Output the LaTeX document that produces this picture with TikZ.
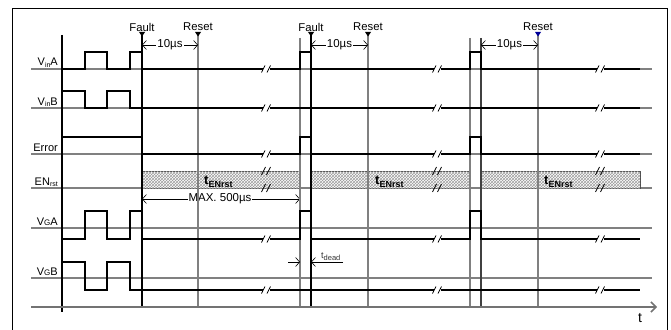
\documentclass[tikz,border=0pt]{standalone}
\usepackage{fontspec}
\setmainfont{Liberation Sans}
\usetikzlibrary{patterns,arrows.meta}
\newcommand\sigbrk[2]{%
  \fill[white] (#1-3.5,#2-2.5) rectangle (#1+3.5,#2+2.5);
  \draw[black,line width=0.7pt] (#1-4.5,#2+3.5) -- (#1-1,#2-3.5) (#1+1,#2+3.5) -- (#1+4.5,#2-3.5);}
\newcommand\barbrk[2]{%
  \draw[black,line width=0.7pt] (#1-4.5,#2+4) -- (#1-0.5,#2-4) (#1+0.5,#2+4) -- (#1+4.5,#2-4);}
\begin{document}
\begin{tikzpicture}[x=1pt,y=-1pt,
  baseln/.style={draw=gray,line width=1.1pt},
  sig/.style={draw=black,line width=1.3pt,line join=miter},
  vgray/.style={draw=gray,line width=1.1pt},
  vblack/.style={draw=black,line width=1.1pt},
  lbl/.style={font=\fontsize{11}{13}\selectfont,anchor=base east,inner sep=0pt},
  toplbl/.style={font=\fontsize{11.3}{13}\selectfont,inner sep=0pt},
  dimarrow/.style={draw=black,line width=0.6pt,{Straight Barb[length=4pt,width=9pt]}-{Straight Barb[length=4pt,width=9pt]}},
  onearrow/.style={draw=black,line width=0.6pt,-{Straight Barb[length=4pt,width=9pt]}},
  dimtxt/.style={font=\fontsize{11.5}{13}\selectfont,fill=white,inner sep=1pt},
  hatchbar/.style={draw=black!70,line width=0.6pt,fill=white,postaction={pattern=crosshatch,pattern color=gray!75}},
  trimk/.style={fill=#1,draw=none},
  tenrst/.style={anchor=base west,inner sep=0pt,font=\bfseries\fontsize{13}{15}\selectfont}
]
\useasboundingbox (0,0) rectangle (671,329);
% frame
\draw[black,line width=0.8pt] (12,335) -- (12,8) -- (667,8) -- (667,335);

% baselines
\draw[baseln] (31,69) -- (652,69);
\draw[baseln] (31,108) -- (652,108);
\draw[baseln] (31,154) -- (652,154);
\draw[baseln] (31,188) -- (652,188);
\draw[baseln] (31,228) -- (652,228);
\draw[baseln] (31,278) -- (652,278);

% EN_rst bars
\draw[hatchbar] (142,171) rectangle (300,188);
\draw[hatchbar] (311,171) rectangle (470,188);
\draw[hatchbar] (481,171) rectangle (640,188);

% MAX arrow and text (under vertical lines)
\draw[onearrow] (190,199) -- (300,199);
\draw[draw=black,line width=0.6pt,{Straight Barb[length=4pt,width=9pt]}-] (142,199) -- (190,199);
\node[dimtxt] (maxtxt) at (220,199) {MAX. 500µs};

% vertical lines
\coordinate (f1t) at (142,35); \coordinate (f1b) at (142,307);
\coordinate (r1t) at (198,35); \coordinate (r1b) at (198,307);
\coordinate (g2at) at (300,38); \coordinate (g2ab) at (300,307);
\coordinate (f2t) at (311,35); \coordinate (f2b) at (311,307);
\coordinate (r2t) at (368,35); \coordinate (r2b) at (368,307);
\coordinate (g3at) at (470,38); \coordinate (g3ab) at (470,307);
\coordinate (g3bt) at (481,38); \coordinate (g3bb) at (481,307);
\coordinate (r3t) at (538,35); \coordinate (r3b) at (538,307);
\draw[vblack] (62,35) -- (62,312);
\draw[vblack] (f1t) -- (f1b);
\draw[vgray] (r1t) -- (r1b);
\draw[vgray] (g2at) -- (g2ab);
\draw[vblack] (f2t) -- (f2b);
\draw[vgray] (r2t) -- (r2b);
\draw[vgray] (g3at) -- (g3ab);
\draw[draw=black!75,line width=1.1pt] (g3bt) -- (g3bb);
\draw[vgray] (r3t) -- (r3b);

% time axis
\draw[draw=gray!90!black,line width=1.5pt,-{Straight Barb[length=5pt,width=10pt]}] (31,307) -- (657,307);
\node[font=\fontsize{14}{15}\selectfont,inner sep=0pt] (tlbl) at (640,318) {t};

% signals
\draw[sig] (62,69) -- (85,69) -- (85,52) -- (107,52) -- (107,69) -- (130,69) -- (130,52) -- (142,52) -- (142,69)
  -- (300,69) -- (300,52) -- (311,52) -- (311,69) -- (470,69) -- (470,52) -- (481,52) -- (481,69) -- (640,69);
\draw[sig] (62,91) -- (85,91) -- (85,108) -- (107,108) -- (107,91) -- (130,91) -- (130,108) -- (640,108);
\draw[sig] (62,137) -- (142,137) -- (142,154) -- (300,154) -- (300,137) -- (311,137) -- (311,154)
  -- (470,154) -- (470,137) -- (481,137) -- (481,154) -- (640,154);
\draw[sig] (62,239) -- (85,239) -- (85,211) -- (107,211) -- (107,239) -- (130,239) -- (130,211) -- (142,211) -- (142,239)
  -- (300,239) -- (300,211) -- (311,211) -- (311,239) -- (470,239) -- (470,211) -- (481,211) -- (481,239) -- (640,239);
\draw[sig] (62,262) -- (85,262) -- (85,290) -- (107,290) -- (107,262) -- (130,262) -- (130,290) -- (640,290);

% breaks
\foreach \bx in {266,437,600} {
  \sigbrk{\bx}{69}
  \sigbrk{\bx}{108}
  \sigbrk{\bx}{154}
  \sigbrk{\bx}{239}
  \sigbrk{\bx}{290}
  \barbrk{\bx}{171}
  \barbrk{\bx}{188}
}

% t_ENrst labels
\node[tenrst] (ten1) at (204,184) {t\raisebox{-3pt}{\fontsize{9}{10}\selectfont ENrst}};
\node[tenrst] (ten2) at (375,184) {t\raisebox{-3pt}{\fontsize{9}{10}\selectfont ENrst}};
\node[tenrst] (ten3) at (544,184) {t\raisebox{-3pt}{\fontsize{9}{10}\selectfont ENrst}};

% markers and top labels
\foreach \mx/\mc in {142/black,198/black,311/black,368/black,538/blue!60!black} {
  \fill[trimk=\mc] (\mx-3,32) -- (\mx+3,32) -- (\mx,36.5) -- cycle;
}
\node[toplbl] (fault1) at (142,27) {Fault};
\node[toplbl] (reset1) at (198,27) {Reset};
\node[toplbl] (fault2) at (311,27) {Fault};
\node[toplbl] (reset2) at (368,27) {Reset};
\node[toplbl] (reset3) at (538,27) {Reset};

% 10us dimensions
\draw[dimarrow] (f1t |- 0,45) -- (r1t |- 0,45);
\node[dimtxt] (d1) at (170,45) {10µs};
\draw[dimarrow] (f2t |- 0,45) -- (r2t |- 0,45);
\node[dimtxt] (d2) at (339.5,45) {10µs};
\draw[dimarrow] (g3bt |- 0,45) -- (r3t |- 0,45);
\node[dimtxt] (d3) at (509.5,45) {10µs};

% t_dead
\draw[onearrow] (288,262) -- (g2ab |- 0,262);
\draw[onearrow] (343,262) -- (f2b |- 0,262);
\node[anchor=base west,inner sep=0pt,text=black!80,font=\fontsize{9}{10}\selectfont] (tdead) at (321,258) {t\raisebox{-2pt}{\fontsize{7.5}{8}\selectfont dead}};

% left labels
\node[lbl] (lvina) at (58,66) {V\raisebox{-1.5pt}{\fontsize{7}{8}\selectfont in}A};
\node[lbl] (lvinb) at (58,105) {V\raisebox{-1.5pt}{\fontsize{7}{8}\selectfont in}B};
\node[lbl] (lerr) at (58,151) {Error};
\node[lbl] (len) at (58,185) {EN\raisebox{-1.5pt}{\fontsize{7}{8}\selectfont rst}};
\node[lbl] (lvga) at (58,225) {V{\fontsize{8}{9}\selectfont G}A};
\node[lbl] (lvgb) at (58,275) {V{\fontsize{8}{9}\selectfont G}B};
\end{tikzpicture}
\end{document}
